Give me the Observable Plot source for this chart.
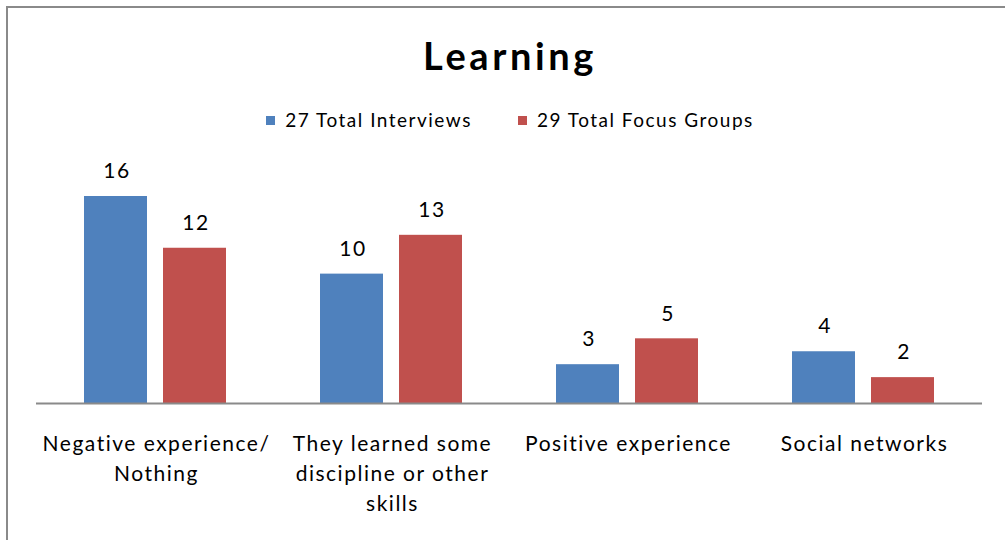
<!DOCTYPE html>
<html>
<head>
<meta charset="utf-8">
<script src="https://cdn.jsdelivr.net/npm/d3@7"></script>
<script src="https://cdn.jsdelivr.net/npm/@observablehq/plot@0.6"></script>
<style>
  html, body { margin: 0; padding: 0; background: #fff; }
  #wrap { position: relative; width: 1005px; height: 540px; overflow: hidden; font-family: Lato, "Open Sans", sans-serif; }
  #frame { position: absolute; left: 6px; top: 6px; width: 1020px; height: 560px; border: 2px solid #8a8a8a; box-sizing: border-box; }
  #title { position: absolute; left: 0; width: 1020px; top: 32px; text-align: center; font-size: 38px; font-weight: bold; color: #000; line-height: 46px; letter-spacing: 3.6px; }
  #legend { position: absolute; top: 108px; left: 0; width: 1020px; display: flex; justify-content: center; gap: 46px; font-size: 19px; color: #000; line-height: 24px; letter-spacing: 1.5px; }
  .item { display: flex; align-items: center; gap: 10px; }
  .sw { width: 9px; height: 9px; display: inline-block; }
  #chart { position: absolute; left: 0; top: 0; }
  #chart svg text { letter-spacing: 1.5px; }
</style>
</head>
<body>
<div id="wrap">
  <div id="frame"></div>
  <div id="title">Learning</div>
  <div id="legend"></div>
  <div id="chart"></div>
</div>
<script>
const categories = ["Negative experience/\nNothing", "They learned some\ndiscipline or other\nskills", "Positive experience", "Social networks"];
const seriesNames = ["27 Total Interviews", "29 Total Focus Groups"];
const interviews = [16, 10, 3, 4];
const focusGroups = [12, 13, 5, 2];
const colors = ["#4F81BD", "#C0504D"];

const legend = document.getElementById("legend");
seriesNames.forEach((s, i) => {
  const it = document.createElement("div");
  it.className = "item";
  it.innerHTML = `<span class="sw" style="background:${colors[i]}"></span><span>${s}</span>`;
  legend.appendChild(it);
});

const dataA = categories.map((c, i) => ({category: c, value: interviews[i]}));
const dataB = categories.map((c, i) => ({category: c, value: focusGroups[i]}));

const bw = 142, barW = 63;
const chart = Plot.plot({
  width: 1005,
  height: 540,
  marginLeft: 36,
  marginRight: 23,
  marginTop: 196,
  marginBottom: 137,
  style: {fontFamily: "Lato, 'Open Sans', sans-serif", background: "transparent", overflow: "visible"},
  x: {domain: categories, paddingInner: 0.4, paddingOuter: 0.2, label: null},
  y: {domain: [0, 16], axis: null},
  marks: [
    Plot.barY(dataA, {x: "category", y: "value", fill: colors[0], insetRight: bw - barW}),
    Plot.barY(dataB, {x: "category", y: "value", fill: colors[1], insetLeft: bw - barW}),
    Plot.ruleY([0], {stroke: "#8a8a8a", strokeWidth: 2}),
    Plot.text(dataA, {x: "category", y: "value", text: d => String(d.value), dx: -38.5, dy: -25, fontSize: 21, fill: "#000"}),
    Plot.text(dataB, {x: "category", y: "value", text: d => String(d.value), dx: 40.5, dy: -25, fontSize: 21, fill: "#000"}),
    Plot.axisX({anchor: "bottom", tickSize: 0, tickPadding: 26, fontSize: 21, lineHeight: 1.43, fill: "#000", label: null, dx: 1})
  ]
});
document.getElementById("chart").appendChild(chart);
</script>
</body>
</html>
